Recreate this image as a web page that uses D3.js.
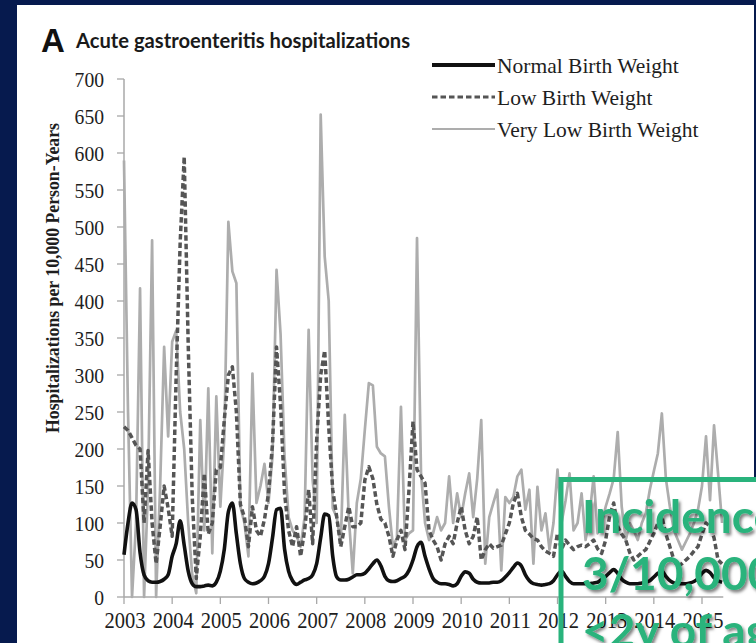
<!DOCTYPE html>
<html><head><meta charset="utf-8">
<script src="https://cdn.jsdelivr.net/npm/d3@7/dist/d3.min.js"></script>
<style>body{margin:0;background:#061a4e;overflow:hidden} svg{display:block}</style>
</head><body>
<svg id="c" width="756" height="643"></svg>
<script>
// ---- data (monthly, Jan 2003 onward) ----
const yearLabels = ["2003","2004","2005","2006","2007","2008","2009","2010","2011","2012","2013","2014","2015"];
const yTickValues = [0,50,100,150,200,250,300,350,400,450,500,550,600,650,700];
const seriesNames = ["Normal Birth Weight","Low Birth Weight","Very Low Birth Weight"];
const normalBW = [
 57,100,127,118,60,30,22,20,20,21,
 24,30,55,72,103,70,35,18,14,14,
 15,16,15,20,35,65,115,127,85,45,
 25,20,18,19,22,28,45,80,118,120,
 65,35,22,17,20,23,25,30,45,80,
 112,110,55,27,23,23,24,27,30,30,
 32,38,45,50,42,28,22,21,22,25,
 28,36,50,68,74,55,38,25,20,18,
 18,17,15,18,28,34,32,24,20,19,
 19,19,20,20,22,27,33,40,46,42,
 30,22,18,17,16,17,18,22,30,35,
 28,21,18,18,18,18,18,19,20,24,
 28,33,37,32,24,20,18,18,18,19,
 20,22,27,32,35,28,22,19,18,18,
 18,19,21,25,32,36,33,26,22,20];
const lowBW = [
 230,225,215,205,200,100,198,100,45,95,
 150,120,82,300,480,595,340,135,25,82,
 167,85,100,172,175,240,300,311,250,125,
 108,68,122,90,82,105,140,207,338,260,
 140,90,68,95,55,90,145,72,212,300,
 333,230,145,108,68,95,122,95,95,100,
 158,176,160,125,105,100,82,55,77,90,
 64,145,237,172,163,154,90,77,68,50,
 72,82,72,100,122,90,72,82,108,50,
 64,72,66,68,70,85,100,127,140,108,
 90,85,79,77,68,62,59,55,86,64,
 77,70,64,68,70,68,72,77,65,59,
 77,110,127,95,85,77,60,50,55,60,
 64,75,86,100,109,85,68,50,41,45,
 50,55,62,68,85,100,95,80,50,45];
const veryLowBW = [
 590,250,0,100,417,0,150,482,0,150,
 338,217,345,360,250,200,100,30,5,239,
 90,282,59,271,122,217,507,440,424,122,
 100,55,302,127,150,180,127,190,442,356,
 190,108,90,82,68,108,361,158,100,652,
 460,400,120,108,72,246,108,32,127,160,
 226,289,286,203,194,190,122,68,80,257,
 77,86,90,485,167,100,77,86,108,90,
 100,163,100,140,108,140,167,108,160,239,
 45,108,127,145,36,135,127,135,163,172,
 118,145,45,149,90,113,64,100,172,100,
 130,167,90,100,140,77,110,163,86,100,
 122,140,160,223,122,77,100,90,77,100,
 113,145,170,194,248,160,122,90,77,64,
 75,86,100,118,150,217,131,232,167,100];
const calloutLines = ["Incidence","3/10,000","<2y of age"];

// ---- drawing ----
const svg = d3.select("#c");
const defs = svg.append("defs");
const f = defs.append("filter").attr("id","sh").attr("x","-10%").attr("y","-10%").attr("width","130%").attr("height","140%");
f.append("feDropShadow").attr("dx",2).attr("dy",2.5).attr("stdDeviation",1.6).attr("flood-color","#000").attr("flood-opacity",0.5);

svg.append("rect").attr("x",0).attr("y",0).attr("width",756).attr("height",643).attr("fill","#061a4e");
svg.append("rect").attr("x",17).attr("y",5).attr("width",737).attr("height",660).attr("fill","#ffffff");

const x = d3.scaleLinear().domain([0,144]).range([124,702]);
const y = d3.scaleLinear().domain([0,700]).range([597,79]);
const serif = "'Liberation Serif','Times New Roman',serif";

// title
svg.append("text").attr("x",41).attr("y",52).attr("font-family","'Liberation Sans',Arial,sans-serif")
  .attr("font-weight","bold").attr("font-size",33).attr("fill","#111").text("A");
svg.append("text").attr("x",76).attr("y",48).attr("font-family","Lato,'Open Sans',sans-serif")
  .attr("font-weight","bold").attr("font-size",20).attr("fill","#1a1a1a")
  .attr("textLength",334).attr("lengthAdjust","spacingAndGlyphs").text("Acute gastroenteritis hospitalizations");

// y axis
const gy = svg.append("g");
gy.append("line").attr("x1",124).attr("x2",124).attr("y1",y(700)).attr("y2",y(0)).attr("stroke","#a8a8a8").attr("stroke-width",1.5);
gy.selectAll("line.t").data(yTickValues).enter().append("line").attr("class","t")
  .attr("x1",117).attr("x2",124).attr("y1",d=>y(d)).attr("y2",d=>y(d)).attr("stroke","#a8a8a8").attr("stroke-width",1.3);
gy.selectAll("text").data(yTickValues).enter().append("text")
  .attr("x",104).attr("y",d=>y(d)).attr("dy","0.35em").attr("text-anchor","end")
  .attr("font-family",serif).attr("font-size",21.5).attr("fill","#1e1e1e")
  .attr("textLength",d=>String(d).length*9.8).attr("lengthAdjust","spacingAndGlyphs")
  .text(d=>d);
svg.append("text").attr("transform","translate(59,278) rotate(-90)").attr("text-anchor","middle")
  .attr("font-family",serif).attr("font-weight","bold").attr("font-size",19).attr("fill","#1e1e1e")
  .attr("textLength",310).attr("lengthAdjust","spacingAndGlyphs")
  .text("Hospitalizations per 10,000 Person-Years");

// x axis
const gx = svg.append("g");
gx.append("line").attr("x1",x(0)).attr("x2",x(149.3)).attr("y1",597).attr("y2",597).attr("stroke","#a8a8a8").attr("stroke-width",1.5);
gx.selectAll("line.t").data(yearLabels).enter().append("line").attr("class","t")
  .attr("x1",(d,i)=>x(i*12)).attr("x2",(d,i)=>x(i*12)).attr("y1",597).attr("y2",604).attr("stroke","#a8a8a8").attr("stroke-width",1.3);
gx.selectAll("text").data(yearLabels).enter().append("text")
  .attr("x",(d,i)=>x(i*12)+1).attr("y",628).attr("text-anchor","middle")
  .attr("font-family",serif).attr("font-size",23).attr("fill","#1e1e1e")
  .attr("textLength",41).attr("lengthAdjust","spacingAndGlyphs").text(d=>d);

// series
const styles = [
  {data:normalBW, stroke:"#111", w:3.6, dash:null},
  {data:lowBW, stroke:"#555", w:3.5, dash:"5.5,3"},
  {data:veryLowBW, stroke:"#adadad", w:2.7, dash:null}
];
[2,1,0].forEach(k=>{
  const s = styles[k];
  svg.append("path").datum(s.data).attr("d", d3.line().x((d,i)=>x(i)).y(d=>y(d)).curve(k===0?d3.curveMonotoneX:d3.curveLinear))
    .attr("fill","none").attr("stroke",s.stroke).attr("stroke-width",s.w)
    .attr("stroke-linejoin","round").attr("stroke-dasharray",s.dash);
});

// legend
const lg = svg.append("g");
const lgY = [65,97,129];
seriesNames.forEach((n,i)=>{
  const s = styles[i];
  lg.append("line").attr("x1",432).attr("x2",495).attr("y1",lgY[i]).attr("y2",lgY[i])
    .attr("stroke",s.stroke).attr("stroke-width",i===2?2.2:(i===0?3.8:3.2)).attr("stroke-dasharray",s.dash);
  lg.append("text").attr("x",497).attr("y",lgY[i]+8).attr("font-family",serif).attr("font-size",21.5)
    .attr("fill","#1e1e1e").text(n);
});

// callout
svg.append("rect").attr("x",740).attr("y",480).attr("width",20).attr("height",170).attr("fill","#fff");
svg.append("rect").attr("x",561).attr("y",479.5).attr("width",260).attr("height",220)
  .attr("fill","none").attr("stroke","#29b37c").attr("stroke-width",5);
svg.selectAll("text.co").data(calloutLines).enter().append("text").attr("class","co")
  .attr("x",582).attr("y",(d,i)=>533+i*57).attr("font-family","Lato,'Open Sans',sans-serif")
  .attr("font-weight","bold").attr("font-size",46).attr("fill","#29b37c")
  .attr("filter","url(#sh)").text(d=>d);
</script>
</body></html>
